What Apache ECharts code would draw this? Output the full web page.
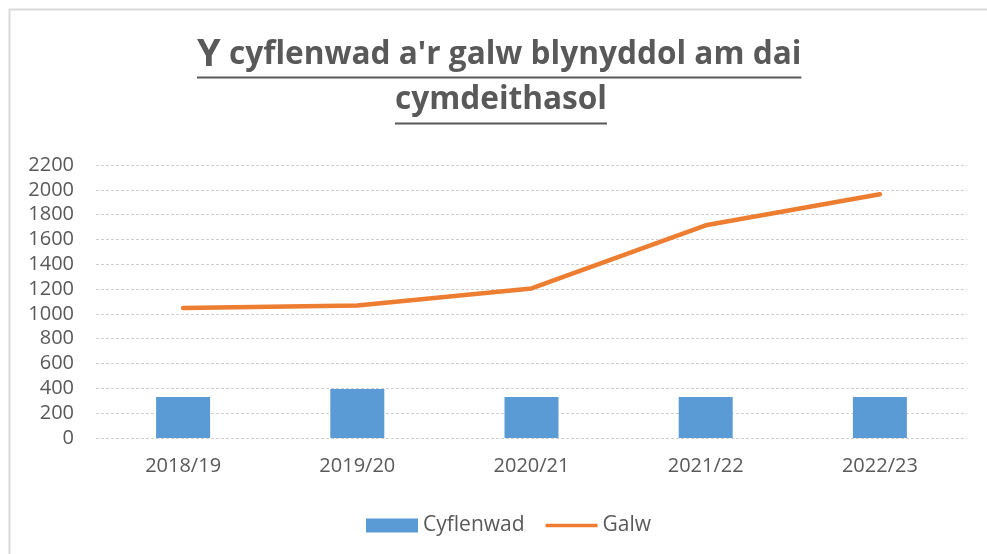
<!DOCTYPE html>
<html>
<head>
<meta charset="utf-8">
<script src="https://cdn.jsdelivr.net/npm/echarts@6/dist/echarts.min.js"></script>
<style>
html,body{margin:0;padding:0;background:#fff;}
#chart{width:987px;height:554px;}
</style>
</head>
<body>
<div id="chart"></div>
<script>
const categories = ['2018/19', '2019/20', '2020/21', '2021/22', '2022/23'];
const cyflenwad = [330, 395, 330, 330, 330];
const galw = [1047, 1067, 1205, 1714, 1965];
const seriesNames = ['Cyflenwad', 'Galw'];
const titleLine1Big = 'Y';
const titleLine1Rest = " cyflenwad a'r galw blynyddol am dai";
const titleLine2 = 'cymdeithasol';

const FONT = '"Open Sans", "Noto Sans", sans-serif';
const TXT = '#595959';

function measure(text, size, weight) {
  const c = document.createElement('canvas').getContext('2d');
  c.font = (weight || 'normal') + ' ' + size + 'px ' + FONT;
  return c.measureText(text).width;
}

const bigSize = 38, titleSize = 31.6;
const wY = measure(titleLine1Big, bigSize, 'bold');
const w1 = wY + measure(titleLine1Rest, titleSize, 'bold');
const w2 = measure(titleLine2, titleSize, 'bold');
const cx = 499;
const x1 = Math.round(cx - w1 / 2);
const x2 = Math.round(cx + 2 - w2 / 2);

const chart = echarts.init(document.getElementById('chart'));
chart.setOption({
  animation: false,
  backgroundColor: '#fff',
  textStyle: { fontFamily: FONT },
  title: [
    {
      text: '{big|' + titleLine1Big + '}{t|' + titleLine1Rest + '}',
      left: x1,
      top: 32,
      padding: 0,
      textStyle: {
        rich: {
          big: { fontSize: bigSize, fontWeight: 'bold', color: TXT, fontFamily: FONT, lineHeight: 46 },
          t: { fontSize: titleSize, fontWeight: 'bold', color: TXT, fontFamily: FONT, lineHeight: 46 }
        }
      }
    },
    {
      text: titleLine2,
      left: x2,
      top: 77,
      padding: 0,
      textStyle: { fontSize: titleSize, fontWeight: 'bold', color: TXT, fontFamily: FONT, lineHeight: 46 }
    }
  ],
  graphic: [
    { type: 'polyline', silent: true, shape: { points: [[9.5, 554], [9.5, 9.5], [987, 9.5]] }, style: { stroke: '#dadada', lineWidth: 2, fill: null } },
    { type: 'line', silent: true, shape: { x1: x1, y1: 77.5, x2: x1 + w1, y2: 77.5 }, style: { stroke: TXT, lineWidth: 2 } },
    { type: 'line', silent: true, shape: { x1: x2, y1: 123.5, x2: x2 + w2, y2: 123.5 }, style: { stroke: TXT, lineWidth: 2 } }
  ],
  legend: {
    data: [
      { name: seriesNames[0], icon: 'rect' },
      { name: seriesNames[1], icon: 'path://M0,0 L56,0 L56,4 L0,4 Z' }
    ],
    bottom: 13,
    left: 361,
    itemWidth: 52,
    itemHeight: 14,
    itemGap: 21,
    textStyle: { color: TXT, fontSize: 21, fontFamily: FONT }
  },
  grid: { left: 96, right: 20, top: 165, bottom: 116, containLabel: false },
  xAxis: {
    type: 'category',
    data: categories,
    axisLine: { show: false },
    axisTick: { show: false },
    axisLabel: { color: TXT, fontSize: 20, margin: 18, fontFamily: FONT }
  },
  yAxis: {
    type: 'value',
    min: 0,
    max: 2200,
    interval: 200,
    axisLine: { show: false },
    axisTick: { show: false },
    axisLabel: { color: TXT, fontSize: 20, margin: 22, fontFamily: FONT, formatter: function (v) { return String(v); } },
    splitLine: { lineStyle: { color: '#cfcfcf', width: 1, type: [3, 2] } }
  },
  series: [
    {
      name: seriesNames[0],
      type: 'bar',
      data: cyflenwad,
      barWidth: 54,
      itemStyle: { color: '#5B9BD5' }
    },
    {
      name: seriesNames[1],
      type: 'line',
      data: galw,
      symbol: 'none',
      lineStyle: { color: '#ED7D31', width: 4.5, cap: 'round', join: 'round' },
      itemStyle: { color: '#ED7D31' }
    }
  ]
});
</script>
</body>
</html>
